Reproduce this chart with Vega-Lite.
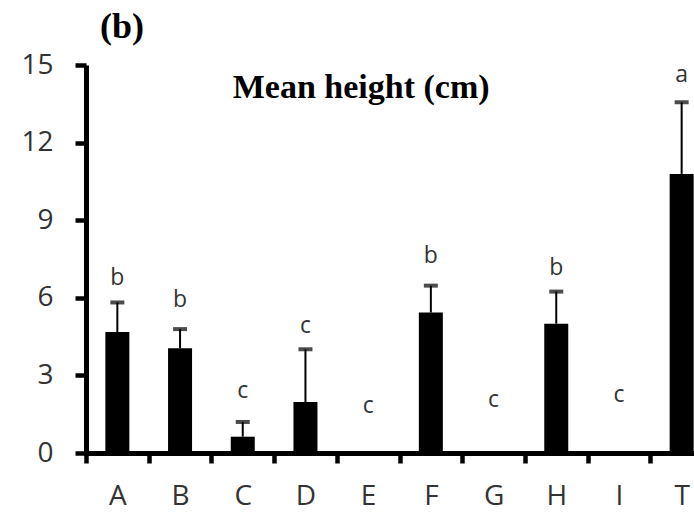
{
  "$schema": "https://vega.github.io/schema/vega-lite/v6.json",
  "autosize": {"type": "none"},
  "width": 608,
  "height": 388,
  "padding": {"left": 86, "top": 65, "right": 0, "bottom": 61},
  "background": "white",
  "config": {"view": {"stroke": null}},
  "title": {
    "text": "(b)",
    "anchor": "start",
    "frame": "group",
    "font": "Liberation Serif",
    "fontWeight": "bold",
    "fontSize": 36,
    "color": "black",
    "dx": 14,
    "offset": -23,
    "baseline": "alphabetic"
  },
  "data": {
    "values": [
      {"treatment": "A", "mean": 4.68, "upper": 5.82, "letter": "b", "letter_y": 6.49},
      {"treatment": "B", "mean": 4.05, "upper": 4.79, "letter": "b", "letter_y": 5.66},
      {"treatment": "C", "mean": 0.63, "upper": 1.2, "letter": "c", "letter_y": 2.13},
      {"treatment": "D", "mean": 1.97, "upper": 4.01, "letter": "c", "letter_y": 4.65},
      {"treatment": "E", "mean": 0, "upper": null, "letter": "c", "letter_y": 1.54},
      {"treatment": "F", "mean": 5.43, "upper": 6.47, "letter": "b", "letter_y": 7.34},
      {"treatment": "G", "mean": 0, "upper": null, "letter": "c", "letter_y": 1.79},
      {"treatment": "H", "mean": 5.0, "upper": 6.24, "letter": "b", "letter_y": 6.88},
      {"treatment": "I", "mean": 0, "upper": null, "letter": "c", "letter_y": 1.98},
      {"treatment": "T", "mean": 10.79, "upper": 13.56, "letter": "a", "letter_y": 14.35}
    ]
  },
  "encoding": {
    "x": {
      "field": "treatment",
      "type": "nominal",
      "sort": null,
      "scale": {"range": [0, 627], "paddingInner": 0, "paddingOuter": 0},
      "axis": {
        "title": null,
        "labelAngle": 0,
        "labelFont": "Open Sans",
        "labelFontSize": 28,
        "labelColor": "#333333",
        "labelPadding": 19,
        "domainColor": "black",
        "domainWidth": 5,
        "tickColor": "black",
        "tickWidth": 4.5,
        "tickSize": 10,
        "tickBand": "extent"
      }
    }
  },
  "layer": [
    {
      "mark": {"type": "bar", "size": 24, "color": "black"},
      "encoding": {
        "y": {
          "field": "mean",
          "type": "quantitative",
          "scale": {"domain": [0, 15], "nice": false, "zero": true},
          "axis": {
            "title": null,
            "values": [0, 3, 6, 9, 12, 15],
            "grid": false,
            "labelFont": "Open Sans",
            "labelFontSize": 28,
            "labelColor": "#333333",
            "labelPadding": 22,
            "domainColor": "black",
            "domainWidth": 5,
            "tickColor": "black",
            "tickWidth": 4.5,
            "tickSize": 11
          }
        }
      }
    },
    {
      "transform": [{"filter": "datum.upper != null"}],
      "mark": {"type": "rule", "color": "black", "strokeWidth": 2},
      "encoding": {
        "y": {"field": "mean", "type": "quantitative"},
        "y2": {"field": "upper"}
      }
    },
    {
      "transform": [{"filter": "datum.upper != null"}],
      "mark": {"type": "tick", "color": "black", "thickness": 4, "size": 14, "orient": "horizontal"},
      "encoding": {
        "y": {"field": "upper", "type": "quantitative"}
      }
    },
    {
      "mark": {"type": "text", "font": "Open Sans", "fontSize": 23, "color": "#333333", "baseline": "alphabetic"},
      "encoding": {
        "y": {"field": "letter_y", "type": "quantitative"},
        "text": {"field": "letter"}
      }
    },
    {
      "data": {"values": [{"label": "Mean height (cm)", "pos": "E", "level": 13.71}]},
      "mark": {"type": "text", "font": "Liberation Serif", "fontWeight": "bold", "fontSize": 34, "color": "black", "dx": -7, "baseline": "alphabetic"},
      "encoding": {
        "x": {"field": "pos", "type": "nominal"},
        "y": {"field": "level", "type": "quantitative"},
        "text": {"field": "label"}
      }
    }
  ]
}
